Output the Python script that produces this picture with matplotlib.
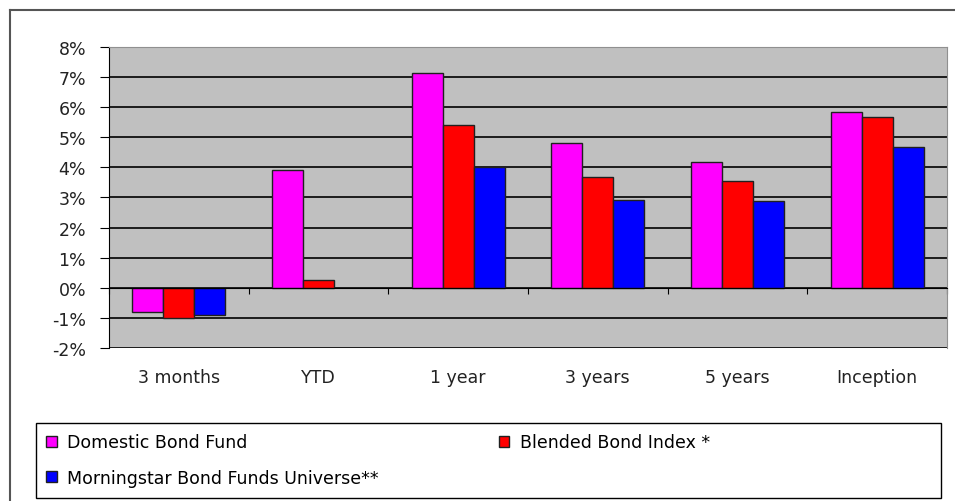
import numpy as np
import matplotlib.pyplot as plt
from matplotlib.lines import Line2D
from matplotlib.patches import Rectangle
from matplotlib.ticker import FuncFormatter

categories = ['3 months', 'YTD', '1 year', '3 years', '5 years', 'Inception']
domestic = [-0.79, 3.9, 7.14, 4.82, 4.19, 5.85]
blended = [-1.0, 0.25, 5.42, 3.69, 3.55, 5.68]
morningstar = [-0.9, None, 4.0, 2.92, 2.88, 4.68]

series = [
    ('Domestic Bond Fund', domestic, '#FF00FF'),
    ('Blended Bond Index *', blended, '#FF0000'),
    ('Morningstar Bond Funds Universe**', morningstar, '#0000FF'),
]

plt.rcParams['font.family'] = ['DejaVu Sans']
fs = 12.5

fig = plt.figure(figsize=(9.55, 5.02), dpi=100)
ax = fig.add_axes([0.1141, 0.3048, 0.8775, 0.5996])
ax.set_facecolor('#C0C0C0')

x = np.arange(len(categories))
w = 1 / 4.5
handles = []
for i, (name, vals, col) in enumerate(series):
    xs = [xi + (i - 1) * w for xi, v in zip(x, vals) if v is not None]
    ys = [v for v in vals if v is not None]
    b = ax.bar(xs, ys, width=w, color=col, edgecolor='#202020', linewidth=1.0,
               zorder=3, label=name)
    handles.append(b)

ax.set_xlim(-0.5, len(categories) - 0.5)
ax.set_ylim(-2, 8)
ax.set_yticks(range(-2, 9))
ax.yaxis.set_major_formatter(FuncFormatter(lambda v, p: f'{int(v)}%'))
ax.yaxis.grid(True, color='black', linewidth=1.2, zorder=1)
ax.set_axisbelow(True)

# category axis sits at zero
ax.spines['bottom'].set_position(('data', 0))
ax.spines['bottom'].set_color('black')
ax.spines['bottom'].set_zorder(4)
ax.set_xticks(np.arange(len(categories) + 1) - 0.5)
ax.set_xticklabels([])
ax.tick_params(axis='x', direction='out', length=4, color='black')
for xi, lab in zip(x, categories):
    ax.text(xi, -2.98, lab, ha='center', va='center', fontsize=fs, color='#222222')

ax.spines['left'].set_color('black')
ax.spines['top'].set_color('#909090')
ax.spines['right'].set_color('#909090')
ax.tick_params(axis='y', direction='out', length=6.5, labelsize=fs,
               labelcolor='#222222', pad=10)

# legend: row 1 Domestic / Blended, row 2 Morningstar
order = [handles[0], handles[2], handles[1]]
leg = fig.legend(handles=order, loc='lower left', ncol=2,
                 bbox_to_anchor=(0.0377, 0.008),
                 fontsize=fs, frameon=False,
                 handlelength=0.6, handleheight=0.6, handletextpad=0.6,
                 columnspacing=6.9, borderaxespad=0, labelspacing=1.0,
                 borderpad=0.6)

# legend box spans the chart width
fig.add_artist(Rectangle((36 / 955, 3 / 502), 905 / 955, 75 / 502,
                         transform=fig.transFigure, fill=False,
                         edgecolor='black', linewidth=1.0))

# outer chart border
fig.add_artist(Line2D([10 / 955, 10 / 955], [0, 1 - 11 / 502], color='#555555', linewidth=1.5))
fig.add_artist(Line2D([10 / 955, 1], [1 - 11 / 502, 1 - 11 / 502], color='#555555', linewidth=1.5))

fig.savefig('out.png', dpi=100)
